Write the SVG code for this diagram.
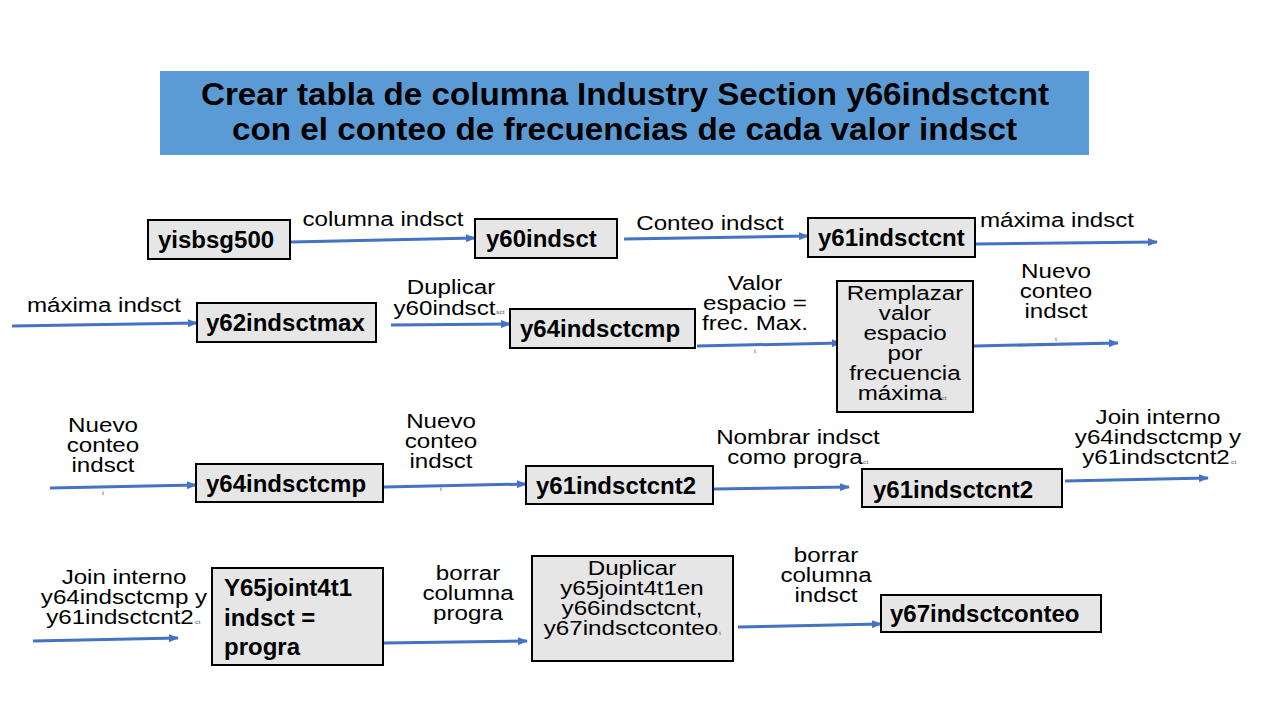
<svg xmlns="http://www.w3.org/2000/svg" width="1280" height="720" viewBox="0 0 1280 720">
<defs>
<marker id="ah" markerWidth="10" markerHeight="8" refX="9" refY="4" orient="auto" markerUnits="userSpaceOnUse">
<path d="M0,0 L10,4 L0,8 Z" fill="#4472C4"/>
</marker>
</defs>
<style>
.box{fill:#E6E6E6;stroke:#000;stroke-width:2}
.nt{font-family:"Liberation Sans",Arial,sans-serif;font-weight:bold;font-size:24px;fill:#000}
.lb{font-family:"Liberation Sans",Arial,sans-serif;font-size:21px;fill:#000;text-anchor:middle}
.tiny{font-family:"Liberation Sans",Arial,sans-serif;font-size:6px;fill:#555}
.ttl{font-family:"Liberation Sans",Arial,sans-serif;font-weight:bold;font-size:31px;fill:#000}
.con{stroke:#4472C4;stroke-width:3;fill:none;marker-end:url(#ah)}
</style>
<rect width="1280" height="720" fill="#fff"/>
<g id="title">
<rect x="160" y="71" width="929" height="84" fill="#5B9BD5"/>
<text class="ttl" x="201" y="105" textLength="848" lengthAdjust="spacingAndGlyphs">Crear tabla de columna Industry Section y66indsctcnt</text>
<text class="ttl" x="232" y="140" textLength="785" lengthAdjust="spacingAndGlyphs">con el conteo de frecuencias de cada valor indsct</text>
</g>
<g id="connectors">
<line class="con" x1="291" y1="242" x2="475" y2="238"/>
<line class="con" x1="624" y1="239" x2="808" y2="236"/>
<line class="con" x1="976" y1="244" x2="1157" y2="242"/>
<line class="con" x1="12" y1="326" x2="197" y2="323"/>
<line class="con" x1="391" y1="325" x2="510" y2="324"/>
<line class="con" x1="697" y1="346" x2="841" y2="343"/>
<line class="con" x1="974" y1="346" x2="1118" y2="343"/>
<line class="con" x1="50" y1="488" x2="196" y2="485"/>
<line class="con" x1="384" y1="487" x2="526" y2="484"/>
<line class="con" x1="714" y1="489" x2="849" y2="487"/>
<line class="con" x1="1065" y1="481" x2="1208" y2="478"/>
<line class="con" x1="33" y1="641" x2="178" y2="638"/>
<line class="con" x1="384" y1="643" x2="527" y2="641"/>
<line class="con" x1="738" y1="627" x2="881" y2="624"/>
</g>
<g id="nodes">
<g id="n_yisbsg500">
<rect class="box" x="148" y="220" width="142" height="39"/>
<text class="nt" x="158" y="248">yisbsg500</text>
</g>
<g id="n_y60indsct">
<rect class="box" x="475" y="219" width="142" height="39"/>
<text class="nt" x="486" y="247">y60indsct</text>
</g>
<g id="n_y61indsctcnt">
<rect class="box" x="808" y="218" width="167" height="39"/>
<text class="nt" x="818" y="246">y61indsctcnt</text>
</g>
<g id="n_y62indsctmax">
<rect class="box" x="197" y="303" width="179" height="39"/>
<text class="nt" x="206" y="331">y62indsctmax</text>
</g>
<g id="n_y64indsctcmp_a">
<rect class="box" x="510" y="309" width="185" height="39"/>
<text class="nt" x="520" y="337">y64indsctcmp</text>
</g>
<g id="n_remplazar">
<rect class="box" x="837" y="281" width="136" height="131"/>
<g transform="scale(1.15,1)">
<text class="lb" x="786.96" y="300">Remplazar</text>
<text class="lb" x="786.96" y="320">valor</text>
<text class="lb" x="786.96" y="340">espacio</text>
<text class="lb" x="786.96" y="360">por</text>
<text class="lb" x="786.96" y="380">frecuencia</text>
<text class="lb" x="782.61" y="400">máxima</text><text class="tiny" x="818.26" y="400">ct</text>
</g>
</g>
<g id="n_y64indsctcmp_b">
<rect class="box" x="196" y="464" width="187" height="38"/>
<text class="nt" x="206" y="492">y64indsctcmp</text>
</g>
<g id="n_y61indsctcnt2_a">
<rect class="box" x="526" y="466" width="187" height="38"/>
<text class="nt" x="536" y="494">y61indsctcnt2</text>
</g>
<g id="n_y61indsctcnt2_b">
<rect class="box" x="862" y="469" width="200" height="38"/>
<text class="nt" x="873" y="498">y61indsctcnt2</text>
</g>
<g id="n_y65joint4t1">
<rect class="box" x="212" y="568" width="171" height="97"/>
<text class="nt" x="224" y="596">Y65joint4t1</text>
<text class="nt" x="224" y="626">indsct =</text>
<text class="nt" x="224" y="655">progra</text>
</g>
<g id="n_duplicar">
<rect class="box" x="532" y="556" width="201" height="105"/>
<g transform="scale(1.15,1)">
<text class="lb" x="549.57" y="575">Duplicar</text>
<text class="lb" x="549.57" y="595">y65joint4t1en</text>
<text class="lb" x="549.57" y="615">y66indsctcnt,</text>
<text class="lb" x="548.7" y="635">y67indsctconteo</text><text class="tiny" x="625.2" y="635">t</text>
</g>
</g>
<g id="n_y67indsctconteo">
<rect class="box" x="881" y="595" width="220" height="37"/>
<text class="nt" x="890" y="622">y67indsctconteo</text>
</g>
</g>
<g id="labels" transform="scale(1.15,1)">
<text class="lb" x="333.04" y="226">columna indsct</text>
<text class="lb" x="617.39" y="230">Conteo indsct</text>
<text class="lb" x="919.13" y="227">máxima indsct</text>
<text class="lb" x="90.43" y="312">máxima indsct</text>
<text class="lb" x="392.17" y="294">Duplicar</text>
<text class="lb" x="386.5" y="315">y60indsct</text><text class="tiny" x="431.3" y="314">sct</text>
<text class="lb" x="656.52" y="290">Valor</text>
<text class="lb" x="656.52" y="310">espacio =</text>
<text class="lb" x="656.52" y="330">frec. Max.</text>
<text class="tiny" x="655.65" y="353">t</text>
<text class="lb" x="918.26" y="278">Nuevo</text>
<text class="lb" x="918.26" y="298">conteo</text>
<text class="lb" x="918.26" y="318">indsct</text>
<text class="tiny" x="917.39" y="341">t</text>
<text class="lb" x="89.57" y="432">Nuevo</text>
<text class="lb" x="89.57" y="452">conteo</text>
<text class="lb" x="89.57" y="472">indsct</text>
<text class="tiny" x="88.7" y="495">t</text>
<text class="lb" x="383.48" y="428">Nuevo</text>
<text class="lb" x="383.48" y="448">conteo</text>
<text class="lb" x="383.48" y="468">indsct</text>
<text class="tiny" x="382.6" y="491">t</text>
<text class="lb" x="693.91" y="444">Nombrar indsct</text>
<text class="lb" x="691.3" y="464">como progra</text><text class="tiny" x="750.43" y="464">ct</text>
<text class="lb" x="1006.96" y="424">Join interno</text>
<text class="lb" x="1006.96" y="444">y64indsctcmp y</text>
<text class="lb" x="1005.22" y="464">y61indsctcnt2</text><text class="tiny" x="1070.43" y="464">ct</text>
<text class="lb" x="107.83" y="584">Join interno</text>
<text class="lb" x="107.83" y="604">y64indsctcmp y</text>
<text class="lb" x="104.35" y="624">y61indsctcnt2</text><text class="tiny" x="169.57" y="624">ct</text>
<text class="lb" x="406.96" y="580">borrar</text>
<text class="lb" x="406.96" y="600">columna</text>
<text class="lb" x="406.96" y="620">progra</text>
<text class="lb" x="718.26" y="562">borrar</text>
<text class="lb" x="718.26" y="582">columna</text>
<text class="lb" x="718.26" y="602">indsct</text>
</g>
</svg>
